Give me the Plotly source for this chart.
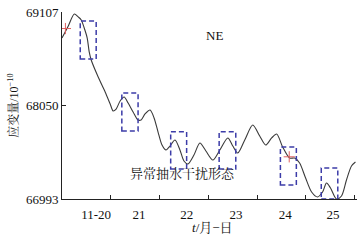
import plotly.graph_objects as go

# strain curve (day of November, strain value x1e-10)
days = [20.000, 20.129, 20.252, 20.333, 20.395, 20.456, 20.517, 20.558, 20.599, 20.742,
        20.885, 20.988, 21.049, 21.110, 21.192, 21.274, 21.356, 21.458, 21.560, 21.622,
        21.703, 21.806, 21.888, 21.970, 22.051, 22.133, 22.215, 22.317, 22.419, 22.501,
        22.583, 22.706, 22.828, 22.951, 23.094, 23.237, 23.401, 23.503, 23.605, 23.748,
        23.912, 24.055, 24.177, 24.300, 24.403, 24.525, 24.668, 24.771, 24.873, 24.996,
        25.119, 25.241, 25.344, 25.425, 25.507, 25.630, 25.732, 25.834, 25.937, 26.018]
strain = [68813, 68949, 69084, 69051, 69017, 68926, 68813, 68655, 68564, 68372,
          68203, 68067, 67988, 68010, 68101, 68146, 68078, 67977, 67886, 67886,
          67954, 67999, 67909, 67750, 67603, 67547, 67592, 67660, 67547, 67423,
          67389, 67490, 67626, 67536, 67434, 67547, 67683, 67592, 67513, 67660,
          67830, 67705, 67603, 67683, 67728, 67581, 67456, 67456, 67400, 67230,
          67072, 67016, 67072, 67174, 67117, 66993, 67027, 67208, 67366, 67411]

# anomaly boxes (pumping interference)
box_x0 = [20.374, 21.227, 22.229, 23.223, 24.479, 25.317]
box_x1 = [20.701, 21.560, 22.556, 23.564, 24.806, 25.656]
box_y0 = [68576, 67762, 67332, 67332, 67151, 66993]
box_y1 = [69005, 68191, 67754, 67754, 67581, 67343]

# small red marks
mark_days = [20.07, 24.66]
mark_vals = [68920, 67470]

y_ticks = [66993, 68050, 69107]
y_labels = ["66993", "68050", "69107"]
x_bounds = [21, 22, 23, 24, 25, 26]
x_label_pos = [20.70, 21.58, 22.56, 23.57, 24.58, 25.56]
x_labels = ["11-20", "21", "22", "23", "24", "25"]

FONT = "Liberation Serif, Noto Serif CJK SC, Noto Sans CJK SC, serif"

fig = go.Figure()
fig.add_trace(go.Scatter(x=days, y=strain, mode="lines",
                         line=dict(color="#3a3a3a", width=1.1, shape="spline", smoothing=0.8),
                         showlegend=False, hoverinfo="skip"))
fig.add_trace(go.Scatter(x=mark_days, y=mark_vals, mode="markers",
                         marker=dict(symbol="cross-thin", size=8, line=dict(color="#e06060", width=1)),
                         showlegend=False, hoverinfo="skip"))

for x0, x1, y0, y1 in zip(box_x0, box_x1, box_y0, box_y1):
    fig.add_shape(type="rect", x0=x0, x1=x1, y0=y0, y1=y1, xref="x", yref="y",
                  line=dict(color="#3c3ca8", width=1.5, dash="5px,3px"))

fig.add_annotation(x=0.518, y=0.925, xref="paper", yref="paper", text="NE", showarrow=False,
                   font=dict(family=FONT, size=13, color="#111"))
fig.add_annotation(x=0.407, y=0.085, xref="paper", yref="paper", text="异常抽水干扰形态", showarrow=False,
                   font=dict(family=FONT, size=13, color="#111"))
fig.add_annotation(x=0.51, y=-0.15, xref="paper", yref="paper", text="<i>t</i>/月−日", showarrow=False,
                   yanchor="middle", font=dict(family=FONT, size=13, color="#111"))

fig.update_layout(
    width=363, height=241,
    margin=dict(l=62, r=5.5, t=12, b=42, autoexpand=False),
    plot_bgcolor="white", paper_bgcolor="white",
    font=dict(family=FONT, size=13, color="#111"),
    xaxis=dict(range=[20, 26.05], showgrid=False, zeroline=False, automargin=False,
               showline=True, linecolor="#222", linewidth=1,
               tickmode="array", tickvals=x_label_pos, ticktext=x_labels, ticks="",
               ticklabelstandoff=3,
               minor=dict(tickmode="array", tickvals=x_bounds, ticks="inside", ticklen=4,
                          tickcolor="#222", showgrid=False)),
    yaxis=dict(range=[66993, 69107], showgrid=False, zeroline=False, automargin=False,
               showline=True, linecolor="#222", linewidth=1,
               tickmode="array", tickvals=y_ticks, ticktext=y_labels,
               ticks="inside", ticklen=4, tickcolor="#222",
               title=dict(text="应变量/10<sup>−10</sup>", standoff=4, font=dict(size=12))),
)

fig.write_html("out.html", config={"displayModeBar": False},
               post_script="document.body.style.margin='0';document.body.style.overflow='hidden';")
